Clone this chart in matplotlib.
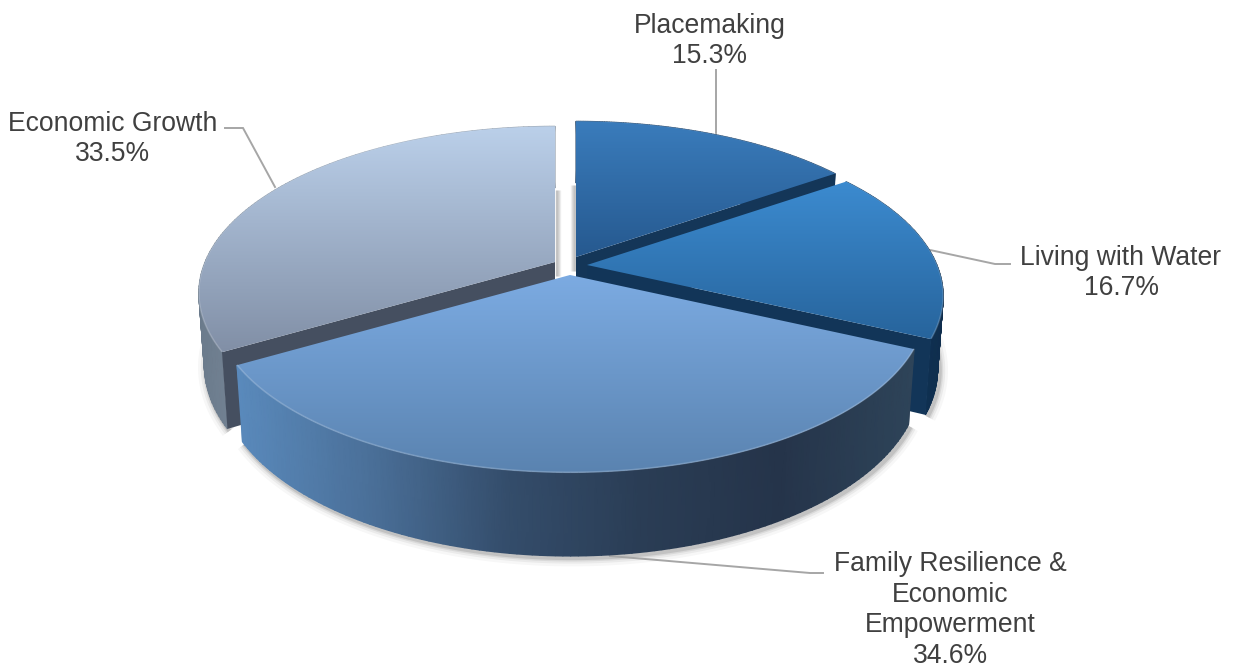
import numpy as np
import matplotlib
matplotlib.use("Agg")
import matplotlib.pyplot as plt
from matplotlib.colors import LinearSegmentedColormap
from matplotlib.patches import Polygon

# Funding share by category, drawn clockwise from 12 o'clock
categories = ["Placemaking", "Living with Water",
              "Family Resilience &\nEconomic\nEmpowerment", "Economic Growth"]
shares = [15.3, 16.7, 34.6, 33.5]

# Pixel layout of the exploded disc
APEX = [(576, 257), (587, 265), (570, 275), (555, 262)]
RX, RY, TILT, DEPTH = 350, 161, 0.186, 71
BASE_SCALE = 0.985

TOP_COLORS = [("#3a7cbc", "#26598f"), ("#3c8bd0", "#27649c"),
              ("#7cabe2", "#5a83b0"), ("#bbd0ea", "#818fa6")]
WALL_COLORS = [["#12355a", "#12355a"], ["#123a60", "#0f2e4e"],
               ["#5a8abc", "#4a6f98", "#344d6b", "#2a3d55", "#25344a", "#2e4459"],
               ["#6b7b8c", "#95a3b3", "#7d8b9b"]]
# (slice index: which end of the slice is cut open, colour)
CUT_FACES = {0: (1, "#143658"), 1: (1, "#123558"), 3: (0, "#454f60")}

LABEL_POS = [(710, 41), (1121, 273), (950, 610), (113, 139)]
LEADERS = [[(716, 70), (716, 135)],
           [(1010, 264), (995, 264), (930, 250)],
           [(823, 573), (810, 573), (610, 556)],
           [(225, 128), (243, 128), (275, 187)]]


def project(apex, angle, radius=1.0, drop=0.0):
    # Perspective view of a disc point, angle in degrees clockwise from top
    a = np.radians(angle)
    u, v = radius * np.sin(a), radius * np.cos(a)
    w = 1 / (1 + TILT * v)
    return np.column_stack([apex[0] + RX * u * w, apex[1] - RY * v * w + drop * w])


def gradient_fill(ax, points, colors, zorder):
    # Fill a polygon with a top-to-bottom gradient, clipped from an image
    cmap = LinearSegmentedColormap.from_list("g", colors)
    ramp = np.linspace(0, 1, 256)[:, None]
    x0, x1 = points[:, 0].min(), points[:, 0].max()
    y0, y1 = points[:, 1].min(), points[:, 1].max()
    img = ax.imshow(ramp, cmap=cmap, extent=(x0, x1, y1, y0), aspect="auto",
                    interpolation="bilinear", zorder=zorder)
    clip = Polygon(points, closed=True, transform=ax.transData, fc="none", ec="none")
    ax.add_patch(clip)
    img.set_clip_path(clip)


def wall_fill(ax, rim, base, colors, zorder):
    # Outer wall as a strip between the two arcs, shaded left to right
    cmap = LinearSegmentedColormap.from_list("w", colors, N=256)
    xs = np.vstack([rim[:, 0], base[:, 0]])
    ys = np.vstack([rim[:, 1], base[:, 1]])
    ax.pcolormesh(xs, ys, xs, cmap=cmap, shading="gouraud", zorder=zorder,
                  vmin=xs.min(), vmax=xs.max())


fig = plt.figure(figsize=(12.35, 6.68), dpi=100)
ax = fig.add_axes([0, 0, 1, 1])
ax.axis("off")

edges = np.concatenate([[0], np.cumsum(shares)]) / np.sum(shares) * 360

# Back to front: Economic Growth sits behind the others on the left
order = [3, 0, 1, 2]
for z, i in enumerate(order):
    apex = APEX[i]
    angles = np.linspace(edges[i], edges[i + 1], 120)
    rim = project(apex, angles)
    base = project(apex, angles, radius=BASE_SCALE, drop=DEPTH)
    z0 = 10 + z * 10

    # soft shadow under the lower rim
    for lw, alpha in [(12, 0.03), (8, 0.05), (5, 0.07), (3, 0.1)]:
        front = np.cos(np.radians(angles)) < 0.2
        ax.plot(base[front, 0] + 2, base[front, 1] + 2, color="#000000", lw=lw,
                alpha=alpha, zorder=1, solid_capstyle="butt")

    # outer wall
    wall_fill(ax, rim, base, WALL_COLORS[i], z0)

    # exposed cut face on one end of the slice
    if i in CUT_FACES:
        end, color = CUT_FACES[i]
        cut = edges[i + end] * np.ones(2)
        upper = project(apex, cut, radius=np.array([0.0, 1.0]))
        lower = project(apex, cut, radius=np.array([0.0, BASE_SCALE]), drop=DEPTH)
        ax.add_patch(Polygon(np.vstack([upper, lower[::-1]]), closed=True,
                             fc=color, ec="none", zorder=z0 + 1))

    # top face
    corner = project(apex, np.array([edges[i]]), radius=0.0)
    top = np.vstack([corner, rim])
    gradient_fill(ax, top, TOP_COLORS[i], z0 + 2)

    # bevel highlight along the rim
    ax.plot(rim[:, 0], rim[:, 1] - 0.5, color="#ffffff", lw=1.2, alpha=0.18,
            zorder=z0 + 3, solid_capstyle="butt")

# shadow falling into the gap at 12 o'clock
for apex, side in [(APEX[3], 1), (APEX[0], -1)]:
    for offset, alpha in [(1, 0.2), (2, 0.18), (3, 0.14), (4, 0.1), (5, 0.05)]:
        ax.plot([apex[0] + side * offset] * 2, [apex[1] - 72, apex[1] + 14],
                color="#000000", lw=1.0, alpha=alpha, zorder=2, solid_capstyle="butt")

for pts in LEADERS:
    xs, ys = zip(*pts)
    ax.plot(xs, ys, color="#a6a6a6", lw=1.4, zorder=5, solid_joinstyle="miter")

for name, share, (x, y) in zip(categories, shares, LABEL_POS):
    ax.text(x, y, f"{name}\n{share}%", ha="center", va="center", fontsize=19.1,
            family="Liberation Sans", color="#404040", linespacing=1.22, zorder=100)

ax.set_xlim(0, 1235)
ax.set_ylim(668, 0)
fig.savefig("out.png", dpi=100, facecolor="white")
